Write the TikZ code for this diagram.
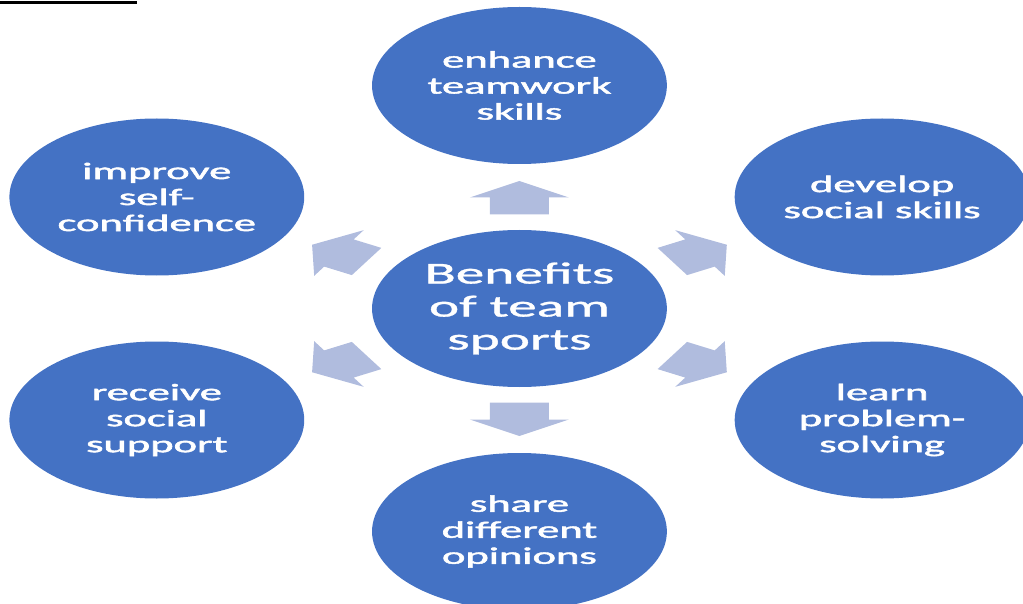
\documentclass[tikz,border=0pt]{standalone}
\usepackage{fontspec}
\setmainfont{Carlito}
\newfontfamily\outerfont{Carlito}[FakeBold=1.6]
\newfontfamily\hubfont{Carlito}[FakeBold=0.9]
\definecolor{cblue}{RGB}{68,114,196}
\definecolor{carrow}{RGB}{176,188,222}
\begin{document}
\begin{tikzpicture}[x=1pt,y=1pt]
\useasboundingbox (0,0) rectangle (1023,-604);
\clip (0,0) rectangle (1023,-604);
\fill[black] (0,-1) rectangle (137,-4);
\begin{scope}[xscale=1.878]
  \tikzset{
    bub/.style={circle, fill=cblue, minimum size=157pt, inner sep=0pt,
      text=white, align=center, transform shape,
      font=\outerfont\fontsize{23.7}{26}\selectfont},
    hub/.style={bub, font=\hubfont\fontsize{30.5}{33}\selectfont},
    blockarrow/.style={fill=carrow}
  }
  \node[hub] (c) at (276.6,-308.5) {Benefits\\of team\\sports};
  \node[bub] (t)  at (276.6,-85.5)  {enhance\\teamwork\\skills};
  \node[bub] (rt) at (469.7,-197)   {develop\\social skills};
  \node[bub] (rb) at (469.7,-420)   {learn\\problem-\\solving};
  \node[bub] (b)  at (276.6,-531.5) {share\\different\\opinions};
  \node[bub] (lb) at (83.5,-420)    {receive\\social\\support};
  \node[bub] (lt) at (83.5,-197)    {improve\\self-\\confidence};
  \foreach \a in {90,30,-30,-90,-150,150}{
    \begin{scope}[shift={(276.6,-308.5)}, rotate=\a]
      \fill[blockarrow] (127.5,0) -- (111,26.35) -- (111,15.7) -- (94,15.7)
        -- (94,-15.7) -- (111,-15.7) -- (111,-26.35) -- cycle;
    \end{scope}
  }
\end{scope}
\end{tikzpicture}
\end{document}
